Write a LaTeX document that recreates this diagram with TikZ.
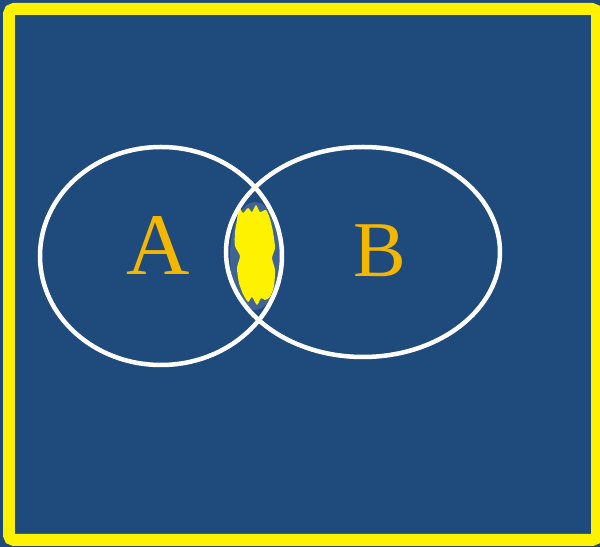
\documentclass[tikz,border=0pt]{standalone}
\usepackage{xcolor}
\usepackage{fontspec}
\setmainfont{Liberation Serif}
\definecolor{bgblue}{RGB}{31,74,124}
\definecolor{haloblue}{RGB}{64,99,148}
\definecolor{labelgold}{RGB}{245,182,0}

\begin{document}
\begin{tikzpicture}[x=0.02cm, y=-0.02cm]
\useasboundingbox (0,0) rectangle (600,547);
\fill[bgblue] (0,0) rectangle (600,547);
\draw[yellow, line width=0.24cm, rounded corners=0.1cm] (9,9) rectangle (597,540);

% shaded middle
\fill[haloblue] (255,256) ellipse (25 and 54);
\fill[yellow] plot[smooth cycle, tension=0.4] coordinates {
  (237,220) (239,207) (243,213) (248,208) (252,212) (256,205) (260,212) (266,210)
  (270,219) (273,232) (275,248) (272,258) (275,270) (274,286) (270,297) (265,300)
  (261,298) (257,305) (252,297) (248,302) (243,294) (239,283) (237,268) (240,256)
  (235,246) (235,232)};

\draw[white, line width=0.09cm] (161,256) ellipse (121 and 109);
\draw[white, line width=0.09cm] (363,252) ellipse (137 and 105);

\node[labelgold, anchor=base, font=\fontsize{50}{60}\selectfont] (A) at (158,275) {A};
\node[labelgold, anchor=base, font=\fontsize{45}{54}\selectfont] (B) at (380,277) {B};
\end{tikzpicture}
\end{document}
